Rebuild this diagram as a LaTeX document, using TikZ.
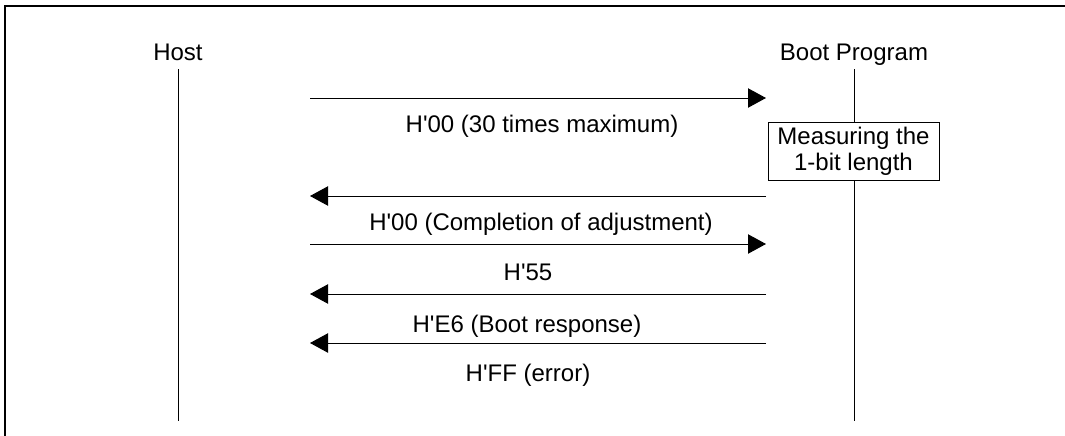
\documentclass[tikz,border=0pt]{standalone}
\usepackage{fontspec}
\setmainfont{Liberation Sans}
\usetikzlibrary{arrows.meta}
\newcommand{\sqt}{\textquotesingle}
\begin{document}
\begin{tikzpicture}[x=0.75pt,y=-0.75pt,
  every node/.style={font=\fontsize{18pt}{19.5pt}\selectfont, inner sep=0pt},
  frameline/.style={line width=1.5pt, line join=miter},
  lifeline/.style={line width=0.75pt},
  msg/.style={line width=0.75pt, -{Triangle[length=13.5pt,width=14.5pt]}},
  lbl/.style={anchor=base},
  procbox/.style={draw, line width=0.75pt, fill=white, align=center,
    minimum width=128.25pt, minimum height=43.5pt}]
\useasboundingbox (0,0) rectangle (1065,436);
\draw[frameline] (4.5,436) -- (4.5,6) -- (1065,6);
% lifelines
\node[lbl] (host) at (178,60) {Host};
\node[lbl] (boot) at (854,60) {Boot Program};
\coordinate (ht) at (178,69);
\coordinate (hb) at (178,421);
\coordinate (bt) at (854,69);
\coordinate (bb) at (854,421);
\draw[lifeline] (ht) -- (hb);
\draw[lifeline] (bt) -- (bb);
% box
\node[procbox] (measure) at (853.5,151) {Measuring the\\1-bit length};
% message ends
\coordinate (h1) at (310,98);  \coordinate (b1) at (766,98);
\coordinate (h2) at (310,196); \coordinate (b2) at (766,196);
\coordinate (h3) at (310,244); \coordinate (b3) at (766,244);
\coordinate (h4) at (310,294); \coordinate (b4) at (766,294);
\coordinate (h5) at (310,343); \coordinate (b5) at (766,343);
\draw[msg] (h1) -- (b1);
\draw[msg] (b2) -- (h2);
\draw[msg] (h3) -- (b3);
\draw[msg] (b4) -- (h4);
\draw[msg] (b5) -- (h5);
% labels
\node[lbl] (l1) at (542,132) {H\sqt00 (30 times maximum)};
\node[lbl] (l2) at (541,230) {H\sqt00 (Completion of adjustment)};
\node[lbl] (l3) at (528,280) {H\sqt55};
\node[lbl] (l4) at (527,332) {H\sqt E6 (Boot response)};
\node[lbl] (l5) at (528,381) {H\sqt FF (error)};
\end{tikzpicture}
\end{document}
